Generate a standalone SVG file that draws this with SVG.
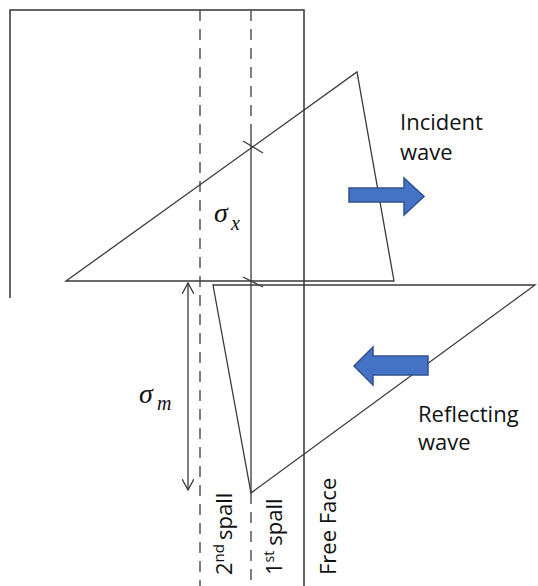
<svg xmlns="http://www.w3.org/2000/svg" width="538" height="586" viewBox="0 0 538 586">
<defs>
<style>
.ln{fill:none;stroke:#3a3a3a;stroke-width:1.3}
.frame{fill:none;stroke:#333;stroke-width:1.5}
.dash{fill:none;stroke:#555;stroke-width:1.5;stroke-dasharray:11 8}
.blue{fill:#4472C4;stroke:#2F528F;stroke-width:1.5}
.lbl{font-family:"Open Sans","Liberation Sans",sans-serif;font-size:22px;fill:#111}
.sig{font-family:"Liberation Serif","DejaVu Serif",serif;font-style:italic;fill:#111}
</style>
<marker id="ah" viewBox="0 0 12 12" refX="11" refY="6" markerWidth="12" markerHeight="12" markerUnits="userSpaceOnUse" orient="auto-start-reverse">
<path d="M0,0 L11,6 L0,12" fill="none" stroke="#333" stroke-width="1.3"/>
</marker>
</defs>
<rect width="538" height="586" fill="#fff"/>
<g id="frame">
<polyline class="frame" points="10,298 10,10 304,10 304,586"/>
</g>
<g id="spall-lines">
<line class="dash" x1="200" y1="10" x2="200" y2="586"/>
<line class="dash" x1="251" y1="10" x2="251" y2="134"/>
<line class="ln" x1="251" y1="134" x2="251" y2="493"/>
<line class="dash" x1="251" y1="493" x2="251" y2="586"/>
</g>
<g id="incident-triangle">
<polygon class="ln" points="66,281 357,72 394,281"/>
</g>
<g id="reflected-triangle">
<polygon class="ln" points="213,285 535,285 251,493"/>
</g>
<g id="connectors">
<line class="ln" x1="243" y1="141" x2="263" y2="153"/>
<line class="ln" x1="243" y1="277" x2="263" y2="287"/>
<line class="ln" x1="188" y1="283" x2="188" y2="490" marker-start="url(#ah)" marker-end="url(#ah)"/>
</g>
<g id="incident-arrow">
<polygon class="blue" points="349,188 404,188 404,178 424,196.5 404,215 404,202 349,202"/>
</g>
<g id="reflecting-arrow">
<polygon class="blue" points="428,356 373,356 373,347 354,366 373,385 373,375 428,375"/>
</g>
<g id="incident-label">
<text class="lbl" x="400" y="130">Incident</text>
<text class="lbl" x="400" y="160">wave</text>
</g>
<g id="reflecting-label">
<text class="lbl" x="418" y="422">Reflecting</text>
<text class="lbl" x="418" y="450">wave</text>
</g>
<g id="sigma-x">
<text class="sig" x="214" y="222" font-size="28">σ</text>
<text class="sig" x="231" y="230" font-size="20">x</text>
</g>
<g id="sigma-m">
<text class="sig" x="139" y="403" font-size="28">σ</text>
<text class="sig" x="157" y="410" font-size="20">m</text>
</g>
<g id="label-2nd">
<text class="lbl" transform="translate(232,575) rotate(-90)">2<tspan font-size="15" dy="-8">nd</tspan><tspan dy="8" dx="4">spall</tspan></text>
</g>
<g id="label-1st">
<text class="lbl" transform="translate(282,575) rotate(-90)">1<tspan font-size="14" dy="-8">st</tspan><tspan dy="8" dx="5">spall</tspan></text>
</g>
<g id="label-free">
<text class="lbl" transform="translate(336,575) rotate(-90)">Free Face</text>
</g>
</svg>
